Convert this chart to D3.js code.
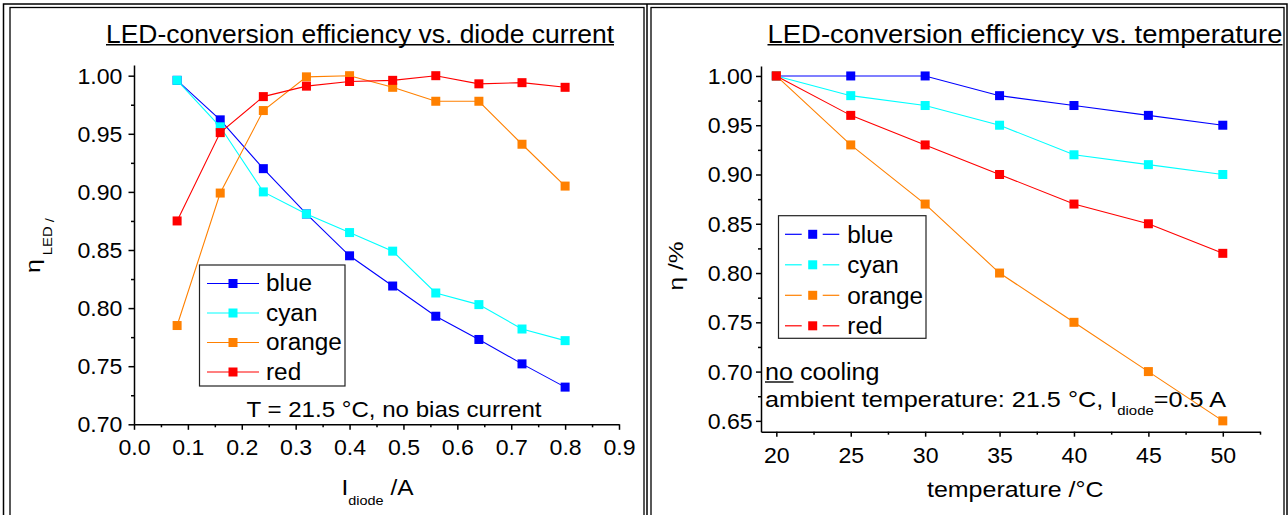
<!DOCTYPE html>
<html>
<head>
<meta charset="utf-8">
<script src="https://cdn.jsdelivr.net/npm/d3@7"></script>
<style>
  body { margin: 0; background: #fff; }
  svg { display: block; font-family: "Liberation Sans", Arial, sans-serif; }
</style>
</head>
<body>
<svg id="chart" width="1288" height="515"></svg>
<script>
// ---- data ----
const seriesNames = ["blue", "cyan", "orange", "red"];
const seriesColors = ["#0000ff", "#00ffff", "#ff8000", "#ff0000"];

// left: efficiency vs diode current
const currents = [0.08, 0.16, 0.24, 0.32, 0.40, 0.48, 0.56, 0.64, 0.72, 0.80];
const currentBlue = [0.996, 0.962, 0.920, 0.881, 0.845, 0.819, 0.793, 0.773, 0.752, 0.732];
const currentCyan = [0.996, 0.956, 0.900, 0.881, 0.865, 0.849, 0.813, 0.803, 0.782, 0.772];
const currentOrange = [0.785, 0.899, 0.970, 0.999, 1.000, 0.990, 0.978, 0.978, 0.941, 0.905];
const currentRed = [0.875, 0.951, 0.982, 0.991, 0.995, 0.996, 1.000, 0.993, 0.994, 0.990];
const currentTicks = [0, 0.1, 0.2, 0.3, 0.4, 0.5, 0.6, 0.7, 0.8, 0.9];
const currentMinor = [0.05, 0.15, 0.25, 0.35, 0.45, 0.55, 0.65, 0.75, 0.85];
const leftEtaTicks = [0.70, 0.75, 0.80, 0.85, 0.90, 0.95, 1.00];
const leftEtaMinor = [0.725, 0.775, 0.825, 0.875, 0.925, 0.975];

// right: efficiency vs temperature
const temps = [20, 25, 30, 35, 40, 45, 50];
const tempBlue = [1.00, 1.00, 1.00, 0.98, 0.97, 0.96, 0.95];
const tempCyan = [1.00, 0.98, 0.97, 0.95, 0.92, 0.91, 0.90];
const tempOrange = [1.00, 0.93, 0.87, 0.80, 0.75, 0.70, 0.65];
const tempRed = [1.00, 0.96, 0.93, 0.90, 0.87, 0.85, 0.82];
const tempTicks = [20, 25, 30, 35, 40, 45, 50];
const tempMinor = [22.5, 27.5, 32.5, 37.5, 42.5, 47.5, 52.5];
const rightEtaTicks = [0.65, 0.70, 0.75, 0.80, 0.85, 0.90, 0.95, 1.00];
const rightEtaMinor = [0.675, 0.725, 0.775, 0.825, 0.875, 0.925, 0.975];

const svg = d3.select("#chart");
const ink = "#000";

// frames
svg.append("rect")
  .attr("x", 3.5).attr("y", 4).attr("width", 1283.5).attr("height", 520)
  .attr("fill", "none").attr("stroke", ink).attr("stroke-width", 1.5);
svg.append("line")
  .attr("x1", 647).attr("x2", 647).attr("y1", 4).attr("y2", 515)
  .attr("stroke", ink).attr("stroke-width", 1.5);
svg.append("rect")
  .attr("x", 10).attr("y", 7.5).attr("width", 634).attr("height", 520)
  .attr("fill", "none").attr("stroke", ink).attr("stroke-width", 1.3);
svg.append("rect")
  .attr("x", 651).attr("y", 7.5).attr("width", 633).attr("height", 520)
  .attr("fill", "none").attr("stroke", ink).attr("stroke-width", 1.3);

function stretchText(sel, k) {
  sel.attr("transform", `scale(${k},1)`);
}

function drawPanel(o) {
  const g = svg.append("g");
  const x = d3.scaleLinear().domain(o.xDomain).range(o.xRange);
  const y = d3.scaleLinear().domain(o.yDomain).range(o.yRange);
  const x0 = o.xRange[0];
  const y0 = o.yRange[0];

  // minor ticks
  g.append("g")
    .attr("transform", `translate(0,${y0})`)
    .call(d3.axisBottom(x).tickValues(o.xMinor).tickSize(3).tickFormat(""))
    .call(s => s.select(".domain").remove())
    .call(s => s.selectAll("line").attr("stroke-width", 1.5));
  g.append("g")
    .attr("transform", `translate(${x0},0)`)
    .call(d3.axisLeft(y).tickValues(o.yMinor).tickSize(3).tickFormat(""))
    .call(s => s.select(".domain").remove())
    .call(s => s.selectAll("line").attr("stroke-width", 1.5));

  // major axes
  g.append("g")
    .attr("transform", `translate(0,${y0})`)
    .call(d3.axisBottom(x).tickValues(o.xTicks).tickSize(o.tickLen).tickSizeOuter(0)
      .tickPadding(o.xPad).tickFormat(o.xFormat))
    .attr("font-size", 22).attr("font-family", null)
    .call(s => s.selectAll("line, .domain").attr("stroke-width", 1.5))
    .call(s => stretchText(s.selectAll("text"), 1.05));
  g.append("g")
    .attr("transform", `translate(${x0},0)`)
    .call(d3.axisLeft(y).tickValues(o.yTicks).tickSize(o.tickLen).tickSizeOuter(0)
      .tickPadding(o.yPad).tickFormat(d3.format(".2f")))
    .attr("font-size", 22).attr("font-family", null)
    .call(s => s.selectAll("line, .domain").attr("stroke-width", 1.5))
    .call(s => stretchText(s.selectAll("text").attr("dy", "0.34em"), 1.05));

  // series
  const line = d3.line().x(d => x(d[0])).y(d => y(d[1]));
  o.series.forEach((vals, i) => {
    const pts = o.xs.map((xv, j) => [xv, vals[j]]);
    g.append("path")
      .datum(pts)
      .attr("d", line)
      .attr("fill", "none")
      .attr("stroke", seriesColors[i])
      .attr("stroke-width", 1.1);
    g.append("g")
      .selectAll("rect")
      .data(pts)
      .join("rect")
      .attr("x", d => x(d[0]) - 4.5)
      .attr("y", d => y(d[1]) - 4.5)
      .attr("width", 9)
      .attr("height", 9)
      .attr("fill", seriesColors[i]);
  });

  // legend
  const L = o.legend;
  const lg = g.append("g");
  lg.append("rect")
    .attr("x", L.box[0]).attr("y", L.box[1]).attr("width", L.box[2]).attr("height", L.box[3])
    .attr("fill", "#fff").attr("stroke", "#222").attr("stroke-width", 1.2);
  seriesNames.forEach((name, i) => {
    const ry = L.rowY + i * L.rowStep;
    L.segments.forEach(seg => {
      lg.append("line")
        .attr("x1", seg[0]).attr("x2", seg[1]).attr("y1", ry).attr("y2", ry)
        .attr("stroke", seriesColors[i]).attr("stroke-width", 1.2);
    });
    lg.append("rect")
      .attr("x", L.markX - 4.5).attr("y", ry - 4.5).attr("width", 9).attr("height", 9)
      .attr("fill", seriesColors[i]);
    lg.append("text")
      .attr("transform", `translate(${L.textX},${ry + L.baseOff}) scale(1.06,1)`)
      .attr("font-size", 23)
      .text(name);
  });

  // title
  g.append("text")
    .attr("x", o.title.x).attr("y", 42.5)
    .attr("font-size", 25)
    .attr("textLength", o.title.w).attr("lengthAdjust", "spacingAndGlyphs")
    .text(o.title.text);
  g.append("line")
    .attr("x1", o.title.x).attr("x2", o.title.x + o.title.w)
    .attr("y1", 44.8).attr("y2", 44.8)
    .attr("stroke", ink).attr("stroke-width", 1.6);

  return g;
}

// ---- left panel ----
const left = drawPanel({
  xs: currents,
  series: [currentBlue, currentCyan, currentOrange, currentRed],
  xDomain: [0, 0.9], xRange: [134, 619],
  yDomain: [0.70, 1.0092], yRange: [424.3, 65],
  xTicks: currentTicks, xMinor: currentMinor,
  yTicks: leftEtaTicks, yMinor: leftEtaMinor,
  xFormat: d3.format(".1f"),
  tickLen: 5.5, xPad: 9.5, yPad: 5.5,
  legend: {
    box: [199.5, 265, 145.5, 121],
    rowY: 283.5, rowStep: 29.5,
    segments: [[207, 259]], markX: 233,
    textX: 266, baseOff: 7.5
  },
  title: { x: 106, w: 508, text: "LED-conversion efficiency vs. diode current" }
});

left.append("text")
  .attr("x", 246.5).attr("y", 416.7)
  .attr("font-size", 22)
  .attr("textLength", 295).attr("lengthAdjust", "spacingAndGlyphs")
  .text("T = 21.5 °C, no bias current");

const lx = left.append("text")
  .attr("x", 341.5).attr("y", 495)
  .attr("font-size", 22)
  .attr("textLength", 72).attr("lengthAdjust", "spacingAndGlyphs");
lx.append("tspan").text("I");
lx.append("tspan").attr("font-size", 13).attr("dy", 10).text("diode");
lx.append("tspan").attr("dy", -10).text(" /A");

const ly = left.append("text")
  .attr("transform", "translate(40,273) rotate(-90)")
  .attr("font-size", 20)
  .attr("textLength", 55).attr("lengthAdjust", "spacingAndGlyphs");
ly.append("tspan").text("η");
ly.append("tspan").attr("font-size", 12).attr("dy", 12).text(" LED");
ly.append("tspan").attr("font-size", 12).attr("dy", 2).text(" /");

// ---- right panel ----
const right = drawPanel({
  xs: temps,
  series: [tempBlue, tempCyan, tempOrange, tempRed],
  xDomain: [18.97, 52.5], xRange: [761, 1260],
  yDomain: [0.639, 1.0101], yRange: [431.7, 66],
  xTicks: tempTicks, xMinor: tempMinor,
  yTicks: rightEtaTicks, yMinor: rightEtaMinor,
  xFormat: d3.format("d"),
  tickLen: 5, xPad: 10.5, yPad: 3,
  legend: {
    box: [778.5, 215.7, 147.5, 122.6],
    rowY: 234.3, rowStep: 30.5,
    segments: [[785, 801.7], [822.7, 839.3]], markX: 812.7,
    textX: 847.3, baseOff: 8.4
  },
  title: { x: 767.5, w: 515, text: "LED-conversion efficiency vs. temperature" }
});

right.append("text")
  .attr("x", 765).attr("y", 380)
  .attr("font-size", 23)
  .attr("textLength", 114.5).attr("lengthAdjust", "spacingAndGlyphs")
  .text("no cooling");
right.append("line")
  .attr("x1", 765).attr("x2", 793.5).attr("y1", 382).attr("y2", 382)
  .attr("stroke", ink).attr("stroke-width", 1.4);

const ra = right.append("text")
  .attr("x", 765).attr("y", 406.7)
  .attr("font-size", 22)
  .attr("textLength", 461).attr("lengthAdjust", "spacingAndGlyphs");
ra.append("tspan").text("ambient temperature: 21.5 °C, I");
ra.append("tspan").attr("font-size", 13).attr("dy", 8.3).text("diode");
ra.append("tspan").attr("dy", -8.3).text("=0.5 A");

right.append("text")
  .attr("x", 927).attr("y", 497)
  .attr("font-size", 22)
  .attr("textLength", 176.5).attr("lengthAdjust", "spacingAndGlyphs")
  .text("temperature /°C");

const ry = right.append("text")
  .attr("transform", "translate(683,290.5) rotate(-90)")
  .attr("font-size", 20)
  .attr("textLength", 49).attr("lengthAdjust", "spacingAndGlyphs");
ry.append("tspan").text("η");
ry.append("tspan").text("  /%");
</script>
</body>
</html>
